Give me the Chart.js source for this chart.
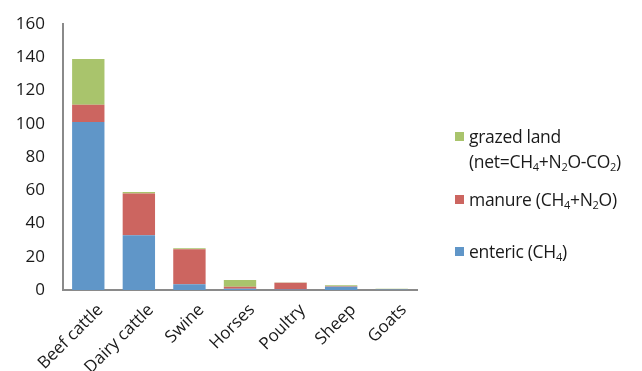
<!DOCTYPE html>
<html>
<head>
<meta charset="utf-8">
<script src="https://cdn.jsdelivr.net/npm/chart.js@4"></script>
<style>
  body { margin: 0; background: #fff; }
  #wrap { position: relative; width: 642px; height: 371px; overflow: hidden; }
  .lg { position: absolute; left: 455px; font: 17.5px "Open Sans", sans-serif; color: #1a1a1a; line-height: 25px; letter-spacing: -0.3px; }
  .lg i { position: absolute; left: 0; top: 8px; width: 9px; height: 9px; }
  .lg span { display: block; padding-left: 14px; white-space: nowrap; }
  .lg sub { font-size: 11px; vertical-align: -3px; line-height: 0; }
</style>
</head>
<body>
<div id="wrap">
  <canvas id="chart" width="642" height="371"></canvas>
  <div class="lg" style="top:124px"><i style="background:#a9c46c"></i><span>grazed land<br>(net=CH<sub>4</sub>+N<sub>2</sub>O-CO<sub>2</sub>)</span></div>
  <div class="lg" style="top:187px"><i style="background:#cc6560"></i><span>manure (CH<sub>4</sub>+N<sub>2</sub>O)</span></div>
  <div class="lg" style="top:239px"><i style="background:#6096c8"></i><span>enteric (CH<sub>4</sub>)</span></div>
</div>
<script>
// ── Data ──
const animals = ['Beef cattle', 'Dairy cattle', 'Swine', 'Horses', 'Poultry', 'Sheep', 'Goats'];
const enteric = [101, 33, 3.5, 0.8, 0.3, 2, 0.3];
const manure  = [10.5, 25, 21, 1.2, 4, 0.3, 0.1];
const grazed  = [27.5, 1, 0.6, 4, 0.2, 0.5, 0.3];
const yTicks  = [0, 20, 40, 60, 80, 100, 120, 140, 160];

const font = { family: '"Open Sans", sans-serif', size: 17 };

new Chart(document.getElementById('chart'), {
  type: 'bar',
  data: {
    labels: animals,
    datasets: [
      { label: 'enteric', data: enteric, backgroundColor: '#6096c8' },
      { label: 'manure', data: manure, backgroundColor: '#cc6560' },
      { label: 'grazed land', data: grazed, backgroundColor: '#a9c46c' }
    ]
  },
  options: {
    responsive: false,
    animation: false,
    layout: { padding: { top: 24, right: 225, left: 0, bottom: 0 } },
    datasets: { bar: { categoryPercentage: 1, barPercentage: 0.64, borderWidth: 0 } },
    plugins: { legend: { display: false }, tooltip: { enabled: false } },
    scales: {
      x: {
        stacked: true,
        grid: { display: false, drawTicks: false },
        border: { color: '#8a8a8a', width: 2 },
        ticks: { color: '#1a1a1a', font, minRotation: 45, maxRotation: 45, autoSkip: false, padding: 10, labelOffset: 12 },
        afterFit: (s) => { s.height = 81; }
      },
      y: {
        stacked: true,
        min: 0,
        max: 160,
        grid: { display: false, drawTicks: false },
        border: { color: '#8a8a8a', width: 2 },
        afterBuildTicks: (s) => { s.ticks = yTicks.map(v => ({ value: v })); },
        ticks: { color: '#1a1a1a', font, padding: 18 },
        afterFit: (s) => { s.width = 63; s.paddingTop = 10; s.paddingBottom = 10; }
      }
    }
  }
});
</script>
</body>
</html>
